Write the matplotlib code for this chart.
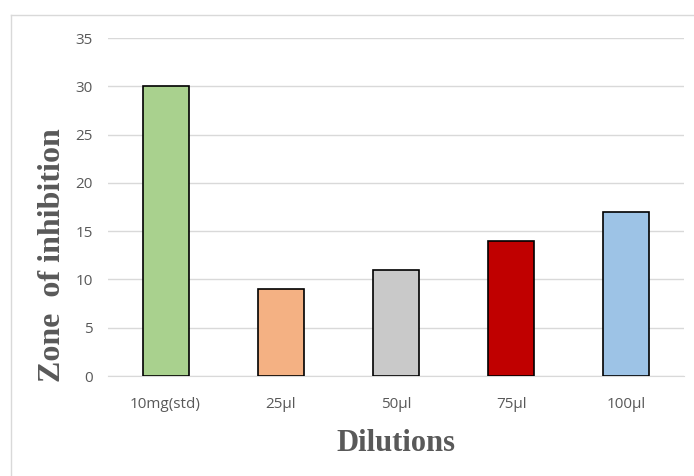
import matplotlib.pyplot as plt
from matplotlib.lines import Line2D

# Data
dilutions = ['10mg(std)', '25µl', '50µl', '75µl', '100µl']
zone = [30, 9, 11, 14, 17]
colors = ['#a9d18e', '#f4b183', '#c9c9c9', '#c00000', '#9dc3e6']

fig = plt.figure(figsize=(6.94, 4.76), dpi=100)
ax = fig.add_axes([0.1556, 0.21, 0.830, 0.71])

# outer chart border (only left and top edges are inside the picture)
bx, by = 10.5 / 694, 1 - 15 / 476
fig.lines.append(Line2D([bx, bx], [0, by], transform=fig.transFigure,
                        color='#d9d9d9', linewidth=1))
fig.lines.append(Line2D([bx, 1], [by, by], transform=fig.transFigure,
                        color='#d9d9d9', linewidth=1))

x = range(len(dilutions))
ax.bar(x, zone, width=0.4, color=colors, edgecolor='black', linewidth=1.2, zorder=3)

ax.set_xlim(-0.5, 4.5)
ax.set_ylim(0, 35)
ax.set_yticks(range(0, 36, 5))
ax.set_xticks(list(x))
ax.set_xticklabels(dilutions)
ax.grid(axis='y', color='#d9d9d9', linewidth=1, zorder=0)

for s in ['top', 'right', 'left']:
    ax.spines[s].set_visible(False)
ax.spines['bottom'].set_color('#d9d9d9')
ax.tick_params(length=0, labelsize=11, labelcolor='#595959')
ax.tick_params(axis='x', pad=15)
ax.tick_params(axis='y', pad=11)
for lbl in ax.get_xticklabels() + ax.get_yticklabels():
    lbl.set_family('Open Sans')

ax.set_xlabel('Dilutions', family='Liberation Serif', fontweight='bold',
              fontsize=22, color='#595959', labelpad=12)
ax.set_ylabel('Zone  of inhibition', family='Liberation Serif', fontweight='bold',
              fontsize=23, color='#595959')
ax.yaxis.set_label_coords(-0.072, 0.358)

fig.savefig('out.png', dpi=100)
